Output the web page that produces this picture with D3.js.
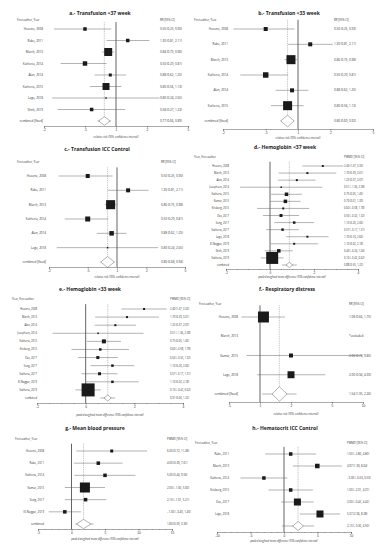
<!DOCTYPE html>
<html>
<head>
<meta charset="utf-8">
<script src="https://cdn.jsdelivr.net/npm/d3@7"></script>
<style>
  body { margin: 0; background: #fff; }
  svg { display: block; }
  text { font-family: "Open Sans", "Liberation Sans", sans-serif; fill: #333; }
</style>
</head>
<body>
<svg id="chart" width="384" height="550"></svg>
<script>
// ---- data (estimates; weights in %) ----
// a. Transfusion <37 week (RR)
const aStudies = ["Hosono, 2008", "Rabe, 2011", "March, 2013", "Katheria, 2014", "Alan, 2014", "Katheria, 2015", "Lago, 2018", "Shirk, 2019"]
const aEst     = [0.50, 1.30, 0.84, 0.50, 0.88, 0.80, 0.80, 0.58]
const aLo      = [0.25, 0.81, 0.73, 0.29, 0.62, 0.56, 0.24, 0.27]
const aHi      = [0.90, 2.11, 0.96, 0.81, 1.25, 1.13, 2.65, 1.23]
const aWeight  = [6.8, 6.8, 35.4, 11.1, 5.0, 27.1, 1.2, 6.8]
const aPooled  = [0.77, 0.66, 0.89]
const aDiamond = [0.68, 0.88]

// b. Transfusion <33 week (RR)
const bStudies = ["Hosono, 2008", "Rabe, 2011", "March, 2013", "Katheria, 2014", "Alan, 2014", "Katheria, 2015"]
const bEst     = [0.50, 1.30, 0.86, 0.50, 0.88, 0.80]
const bLo      = [0.25, 0.81, 0.75, 0.29, 0.62, 0.56]
const bHi      = [0.93, 2.11, 0.98, 0.81, 1.25, 1.13]
const bWeight  = [6.7, 6.7, 33.8, 12.5, 6.7, 33.8]
const bPooled  = [0.80, 0.69, 0.92]
const bDiamond = [0.69, 0.92]

// c. Transfusion ICC Control (RR)
const cStudies = ["Hosono, 2008", "Rabe, 2011", "March, 2013", "Katheria, 2014", "Alan, 2014", "Lago, 2018"]
const cEst     = [0.50, 1.30, 0.86, 0.50, 0.88, 0.80]
const cLo      = [0.25, 0.81, 0.75, 0.29, 0.62, 0.24]
const cHi      = [0.90, 2.11, 0.98, 0.81, 1.25, 2.65]
const cWeight  = [10.0, 10.0, 50.6, 15.6, 12.7, 1.4]
const cPooled  = [0.80, 0.68, 0.94]
const cDiamond = [0.68, 0.94]

// d. Hemoglobin <37 week (PWMD)
const dStudies = ["Hosono, 2008", "March, 2013", "Alan, 2014", "Josephsen, 2014", "Katheria, 2015", "Kumar, 2015", "Krisberg, 2015",
                  "Das, 2017", "Song, 2017", "Katheria, 2017", "Lago, 2018", "El-Naggar, 2019", "Shirk, 2019", "Katheria, 2019"]
const dEst     = [2.40, 1.70, 1.22, 0.51, 0.75, 0.70, 0.60, 0.50, 1.10, 0.57, 1.70, 1.10, 0.40, 0.10]
const dLo      = [1.47, 0.39, 0.37, -1.36, 0.05, 0.01, -0.58, -0.32, 0.20, -0.17, 0.74, 0.02, -0.24, -0.42]
const dHi      = [3.33, 3.01, 2.07, 2.38, 1.45, 1.39, 1.78, 1.32, 2.00, 1.31, 2.66, 2.18, 1.04, 0.62]
const dWeight  = [1.7, 1.7, 1.7, 1.0, 5.4, 5.4, 1.7, 3.9, 2.7, 2.7, 1.7, 1.7, 5.4, 63.0]
const dPooled  = [0.88, 0.55, 1.22]
const dDiamond = [0.73, 1.03]

// e. Hemoglobin <33 week (PWMD)
const eStudies = ["Hosono, 2008", "March, 2013", "Alan, 2014", "Josephsen, 2014", "Katheria, 2015", "Krisberg, 2015",
                  "Das, 2017", "Song, 2017", "Katheria, 2017", "El-Naggar, 2019", "Katheria, 2019"]
const eEst     = [2.40, 1.70, 1.22, 0.51, 0.75, 0.60, 0.50, 1.10, 0.57, 1.10, 0.10]
const eLo      = [1.47, 0.39, 0.37, -1.36, 0.05, -0.58, -0.32, 0.20, -0.17, 0.02, -0.42]
const eHi      = [3.33, 3.01, 2.07, 2.38, 1.45, 1.78, 1.32, 2.00, 1.31, 2.18, 0.62]
const eWeight  = [1.7, 1.7, 1.7, 1.0, 6.8, 2.6, 3.8, 2.6, 3.8, 2.6, 71.6]
const ePooled  = [0.91, 0.60, 1.22]
const eDiamond = [0.75, 1.05]

// f. Respiratory distress (RR); March 2013 excluded
const fStudies = ["Hosono, 2008", "March, 2013", "Kumar, 2015", "Lago, 2018"]
const fEst     = [1.08, null, 2.00, 2.00]
const fLo      = [0.66, null, 0.74, 0.94]
const fHi      = [1.75, null, 9.80, 4.30]
const fWeight  = [65.1, 0, 8.6, 26.3]
const fPooled  = [1.54, 1.05, 2.26]
const fDiamond = [1.31, 1.83]

// g. Mean blood pressure (PWMD)
const gStudies = ["Hosono, 2008", "Rabe, 2011", "Katheria, 2014", "Kumar, 2015", "Song, 2017", "El-Naggar, 2019"]
const gEst     = [6.00, 4.00, 5.00, 2.00, 2.10, -1.00]
const gLo      = [0.72, 0.39, 0.44, -1.00, -1.01, -3.40]
const gHi      = [11.28, 7.61, 9.56, 5.00, 5.21, 1.40]
const gWeight  = [5.7, 7.8, 7.8, 63.3, 7.8, 7.8]
const gPooled  = [1.80, 0.59, 3.30]
const gDiamond = [0.75, 2.90]

// h. Hematocrit ICC Control (PWMD)
const hStudies = ["Rabe, 2011", "March, 2013", "Katheria, 2014", "Krisberg, 2015", "Das, 2017", "Lago, 2018"]
const hEst     = [1.00, 4.97, -3.00, 1.00, 2.00, 5.37]
const hLo      = [-2.80, 1.30, -6.50, -2.31, -0.42, 2.36]
const hHi      = [4.80, 8.64, 0.50, 4.31, 4.42, 8.38]
const hWeight  = [7.9, 13.1, 7.9, 7.9, 31.6, 31.6]
const hPooled  = [2.10, -0.30, 4.50]
const hDiamond = [1.30, 2.90]

const rrTicks   = [0.2, 0.5, 1, 2, 5]
const rdsTicks  = [0.5, 1, 2, 5, 10]
const hbTicks   = [-2, 0, 2, 4]
const mbpTicks  = [-5, 0, 5, 10, 15]
const hctTicks  = [-10, -5, 0, 5, 10]

const RR_TITLE = "relative risk (95% confidence interval)"
const MD_TITLE = "pooled weighted mean difference (95% confidence interval)"

const svg = d3.select("#chart")
const f2 = d3.format(".2f")

function forest(p) {
	const g = svg.append("g")
	const log = p.type === "log"

	const x = (log ? d3.scaleLog() : d3.scaleLinear())
		.domain(p.domain).range(p.range)

	const rows = p.studies.map((s, i) => ({
		label: s, est: p.est[i], lo: p.lo[i], hi: p.hi[i], w: p.weight[i]
	}))
	const keys = rows.map((d, i) => "r" + i).concat(["pooled"])
	const y = d3.scalePoint().domain(keys).range(p.rowY)
	const step = y.step()
	const side = d3.scaleSqrt().domain([0, 100]).range([0, p.s100])

	// titles and headers
	g.append("text").attr("x", p.titleX).attr("y", p.titleY)
		.attr("text-anchor", "middle").style("font-size", "5px").style("font-weight", 700)
		.style("fill", "#222").text(p.title)
	g.append("text").attr("x", p.headLeft).attr("y", p.headY)
		.style("font-size", "2.8px").text(p.headL)
	g.append("text").attr("x", p.textX).attr("y", p.headY)
		.style("font-size", "2.8px").text(p.headR)

	const top = p.rowY[0] - 0.6 * step

	// null line and pooled dotted line
	g.append("line")
		.attr("x1", x(p.nullV)).attr("x2", x(p.nullV))
		.attr("y1", top).attr("y2", p.axisY)
		.attr("stroke", "#222").attr("stroke-width", 0.7)
	g.append("line")
		.attr("x1", x(p.pooled[0])).attr("x2", x(p.pooled[0]))
		.attr("y1", top).attr("y2", y("pooled"))
		.attr("stroke", "#777").attr("stroke-width", 0.45)
		.attr("stroke-dasharray", "1,0.8")

	// study rows
	const row = g.selectAll("g.row").data(rows).join("g").attr("class", "row")
		.attr("transform", (d, i) => `translate(0,${y("r" + i)})`)

	row.append("text").attr("x", p.labelRight).attr("y", 1)
		.attr("text-anchor", "end").style("font-size", p.labelSize + "px")
		.text(d => d.label)

	row.append("text").attr("x", p.textX).attr("y", 1)
		.style("font-size", p.labelSize + "px")
		.text(d => d.est == null ? "*excluded" : `${f2(d.est)} (${f2(d.lo)}, ${f2(d.hi)})`)

	const shown = row.filter(d => d.est != null)
	shown.append("line")
		.attr("x1", d => x(d.lo)).attr("x2", d => x(d.hi))
		.attr("stroke", "#555").attr("stroke-width", 0.45)
	shown.append("rect")
		.attr("x", d => x(d.est) - Math.max(side(d.w), 1.3) / 2)
		.attr("y", d => -Math.max(side(d.w), 1.3) / 2)
		.attr("width", d => Math.max(side(d.w), 1.3))
		.attr("height", d => Math.max(side(d.w), 1.3))
		.attr("fill", "#1a1a1a")

	// pooled row
	const py = y("pooled")
	const dh = 0.38 * step
	g.append("line")
		.attr("x1", x(p.pooled[1])).attr("x2", x(p.pooled[2]))
		.attr("y1", py).attr("y2", py)
		.attr("stroke", "#555").attr("stroke-width", 0.45)
	g.append("path")
		.attr("d", `M${x(p.diamond[0])},${py} L${x(p.pooled[0])},${py - dh} L${x(p.diamond[1])},${py} L${x(p.pooled[0])},${py + dh} Z`)
		.attr("fill", "#fff").attr("stroke", "#666").attr("stroke-width", 0.5)
	if (p.pooledLabel) {
		g.append("text").attr("x", p.labelRight).attr("y", py + 1)
			.attr("text-anchor", "end").style("font-size", p.labelSize + "px")
			.text(p.pooledLabel)
	}
	g.append("text").attr("x", p.textX).attr("y", py + 1)
		.style("font-size", p.labelSize + "px")
		.text(`${f2(p.pooled[0])} (${f2(p.pooled[1])}, ${f2(p.pooled[2])})`)

	// axis
	const fmt = d => (d > 0 && d < 1) ? String(d).replace(/^0/, "") : String(d)
	const ax = g.append("g").attr("transform", `translate(0,${p.axisY})`)
		.call(d3.axisBottom(x).tickValues(p.ticks).tickSize(1.8).tickPadding(1).tickFormat(fmt))
	if (p.minor) {
		g.append("g").attr("transform", `translate(0,${p.axisY})`)
			.call(d3.axisBottom(x).tickValues(d3.range(p.domain[0], p.domain[1] + 1e-9, p.minor))
				.tickSize(1).tickFormat(""))
			.call(s => s.select(".domain").remove())
			.selectAll("line").attr("stroke", "#555").attr("stroke-width", 0.35)
	}
	ax.select(".domain").attr("stroke", "#444").attr("stroke-width", 0.45)
	ax.selectAll(".tick line").attr("stroke", "#444").attr("stroke-width", 0.45)
	ax.selectAll(".tick text").style("font-size", "3.2px").style("font-family", "inherit").attr("fill", "#333")

	g.append("text").attr("x", (p.range[0] + p.range[1]) / 2).attr("y", p.axisTitleY)
		.attr("text-anchor", "middle").style("font-size", "2.6px")
		.style("font-style", p.italicTitle ? "italic" : "normal")
		.text(p.axisTitle)
}

forest({ title: "a.- Transfusion <37 week", titleX: 100, titleY: 15,
	studies: aStudies, est: aEst, lo: aLo, hi: aHi, weight: aWeight, pooled: aPooled, diamond: aDiamond,
	headL: "First author, Year", headR: "RR [95% CI]", headLeft: 17, headY: 21, labelRight: 43, textX: 160, labelSize: 3,
	rowY: [29, 121], axisY: 126, axisTitleY: 138, type: "log", domain: [0.2, 5], range: [44, 188],
	ticks: rrTicks, nullV: 1, s100: 13.4, pooledLabel: "combined [fixed]", axisTitle: RR_TITLE })

forest({ title: "b.- Transfusion <33 week", titleX: 289, titleY: 15,
	studies: bStudies, est: bEst, lo: bLo, hi: bHi, weight: bWeight, pooled: bPooled, diamond: bDiamond,
	headL: "First author, Year", headR: "RR [95% CI]", headLeft: 194, headY: 21, labelRight: 228, textX: 334, labelSize: 3,
	rowY: [29, 121], axisY: 129, axisTitleY: 139, type: "log", domain: [0.2, 5], range: [223, 373],
	ticks: rrTicks, nullV: 1, s100: 15.5, pooledLabel: "combined [fixed]", axisTitle: RR_TITLE })

forest({ title: "c.- Transfusion ICC Control", titleX: 97, titleY: 151,
	studies: cStudies, est: cEst, lo: cLo, hi: cHi, weight: cWeight, pooled: cPooled, diamond: cDiamond,
	headL: "First author, Year", headR: "RR [95% CI]", headLeft: 17, headY: 163, labelRight: 46, textX: 161, labelSize: 3,
	rowY: [176, 262], axisY: 267, axisTitleY: 278, type: "log", domain: [0.2, 5], range: [49, 185],
	ticks: rrTicks, nullV: 1, s100: 12.7, pooledLabel: "combined [fixed]", axisTitle: RR_TITLE })

forest({ title: "d.- Hemoglobin <37 week", titleX: 285, titleY: 149,
	studies: dStudies, est: dEst, lo: dLo, hi: dHi, weight: dWeight, pooled: dPooled, diamond: dDiamond,
	headL: "Year, first author", headR: "PWMD [95% CI]", headLeft: 194, headY: 158, labelRight: 229, textX: 344, labelSize: 2.6,
	rowY: [166, 265], axisY: 269, axisTitleY: 278, type: "linear", domain: [-2, 4], range: [226, 358],
	ticks: hbTicks, minor: 0.5, nullV: 0, s100: 15.1, pooledLabel: "combined", axisTitle: MD_TITLE, italicTitle: true })

forest({ title: "e.- Hemoglobin <33 week", titleX: 90, titleY: 291,
	studies: eStudies, est: eEst, lo: eLo, hi: eHi, weight: eWeight, pooled: ePooled, diamond: eDiamond,
	headL: "Year, first author", headR: "PWMD [95% CI]", headLeft: 12, headY: 300, labelRight: 37, textX: 170, labelSize: 2.6,
	rowY: [309, 398], axisY: 403, axisTitleY: 416, type: "linear", domain: [-2, 4], range: [37, 183],
	ticks: hbTicks, minor: 0.5, nullV: 0, s100: 15.4, pooledLabel: "combined", axisTitle: MD_TITLE, italicTitle: true })

forest({ title: "f.- Respiratory distress", titleX: 287, titleY: 291,
	studies: fStudies, est: fEst, lo: fLo, hi: fHi, weight: fWeight, pooled: fPooled, diamond: fDiamond,
	headL: "First author, Year", headR: "RR [95% CI]", headLeft: 199, headY: 305, labelRight: 238, textX: 349, labelSize: 3,
	rowY: [317, 394], axisY: 402, axisTitleY: 415, type: "log", domain: [0.5, 10], range: [229, 363],
	ticks: rdsTicks, nullV: 1, s100: 13.6, pooledLabel: "combined [fixed]", axisTitle: RR_TITLE })

forest({ title: "g.- Mean blood pressure", titleX: 95, titleY: 430,
	studies: gStudies, est: gEst, lo: gLo, hi: gHi, weight: gWeight, pooled: gPooled, diamond: gDiamond,
	headL: "First author, Year", headR: "PWMD [95% CI]", headLeft: 15, headY: 440, labelRight: 44, textX: 167, labelSize: 2.8,
	rowY: [451, 524], axisY: 529, axisTitleY: 540, type: "linear", domain: [-5, 15], range: [38, 172],
	ticks: mbpTicks, minor: 1, nullV: 0, s100: 12.6, pooledLabel: "combined", axisTitle: MD_TITLE, italicTitle: true })

forest({ title: "h.- Hematocrit ICC Control", titleX: 285, titleY: 430,
	studies: hStudies, est: hEst, lo: hLo, hi: hHi, weight: hWeight, pooled: hPooled, diamond: hDiamond,
	headL: "First author, Year", headR: "PWMD [95% CI]", headLeft: 195, headY: 444, labelRight: 229, textX: 347, labelSize: 2.8,
	rowY: [454, 526], axisY: 532, axisTitleY: 542, type: "linear", domain: [-10, 10], range: [217, 351],
	ticks: hctTicks, minor: 1, nullV: 0, s100: 12.5, pooledLabel: "", axisTitle: MD_TITLE, italicTitle: true })
</script>
</body>
</html>
